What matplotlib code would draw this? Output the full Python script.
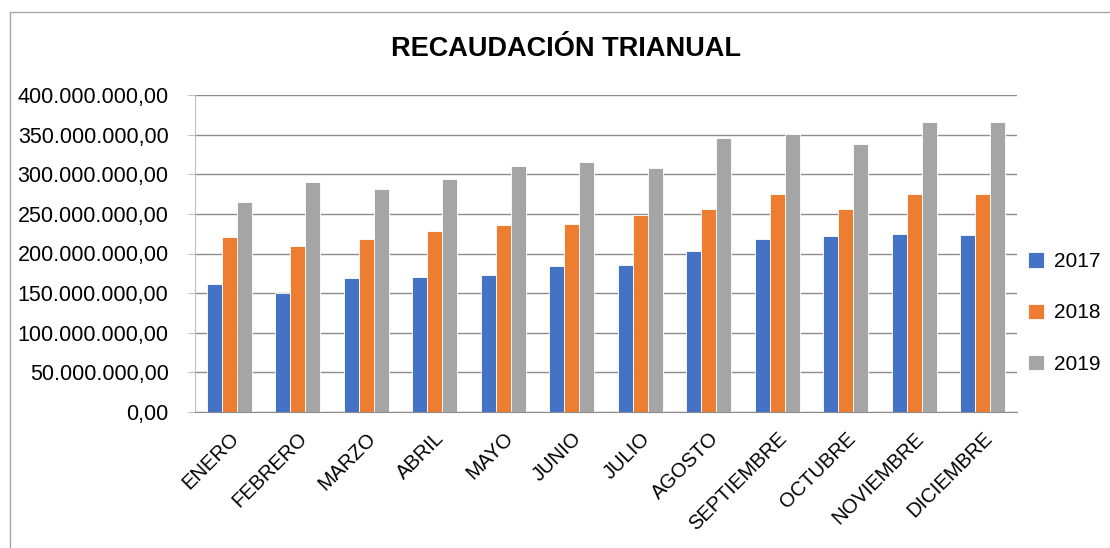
import numpy as np
import matplotlib.pyplot as plt
from matplotlib.lines import Line2D
from matplotlib.ticker import FuncFormatter

meses = ['ENERO', 'FEBRERO', 'MARZO', 'ABRIL', 'MAYO', 'JUNIO', 'JULIO',
         'AGOSTO', 'SEPTIEMBRE', 'OCTUBRE', 'NOVIEMBRE', 'DICIEMBRE']
# valores en millones
r2017 = [162, 150, 169, 170, 173, 184.5, 186, 203.5, 218.5, 222, 224, 223]
r2018 = [221, 210, 218, 228, 236, 237.5, 248, 256.5, 274.5, 256.5, 274.5, 274.5]
r2019 = [265, 290, 281, 294, 310, 316, 308, 345.5, 351, 338, 366.5, 366.5]
series = ['2017', '2018', '2019']
colores = ['#4472C4', '#ED7D31', '#A5A5A5']

plt.rcParams['font.family'] = ['Liberation Sans', 'DejaVu Sans']

fig = plt.figure(figsize=(11.1, 5.48), dpi=100)
ax = fig.add_axes([195/1110, 1 - 412/548, 822/1110, 317/548])

# marco exterior del grafico (solo se ven borde superior e izquierdo)
fig.add_artist(Line2D([10/1110, 10/1110, 1.0], [0.0, 1 - 12/548, 1 - 12/548],
                      transform=fig.transFigure, color='#A6A6A6', linewidth=1))

x = np.arange(len(meses))
w = 0.22
for i, (vals, nom, col) in enumerate(zip([r2017, r2018, r2019], series, colores)):
    ax.bar(x + (i - 1) * w, np.array(vals) * 1e6, w, color=col, label=nom,
           edgecolor='white', linewidth=0.6, zorder=3)

ax.set_xlim(-0.5, len(meses) - 0.5)
ax.set_ylim(0, 400e6)
ax.set_yticks(np.arange(0, 400e6 + 1, 50e6))

def fmt(v, pos):
    s = f'{v:,.2f}'
    return s.replace(',', 'X').replace('.', ',').replace('X', '.')

ax.yaxis.set_major_formatter(FuncFormatter(fmt))
ax.grid(axis='y', color='#8C8C8C', linewidth=1, zorder=0)
ax.set_xticks(x)
ax.set_xticklabels(meses, rotation=45, ha='right', rotation_mode='anchor', fontsize=14.5)
ax.tick_params(axis='y', labelsize=15.5, length=5, color='#BFBFBF', pad=14)
ax.tick_params(axis='x', length=0, pad=12)
for s in ['top', 'right']:
    ax.spines[s].set_visible(False)
ax.spines['left'].set_color('#BFBFBF')
ax.spines['bottom'].set_color('#8C8C8C')

ax.set_title('RECAUDACIÓN TRIANUAL', fontsize=19.5, fontweight='bold', pad=28,
             x=(566 - 195) / 822)

fig.legend(loc='center left', bbox_to_anchor=(1028/1110, 1 - 313/548), frameon=False,
           fontsize=15, handlelength=0.75, handleheight=0.75, labelspacing=1.55,
           handletextpad=0.5, borderpad=0, borderaxespad=0)

fig.savefig('out.png', dpi=100)
